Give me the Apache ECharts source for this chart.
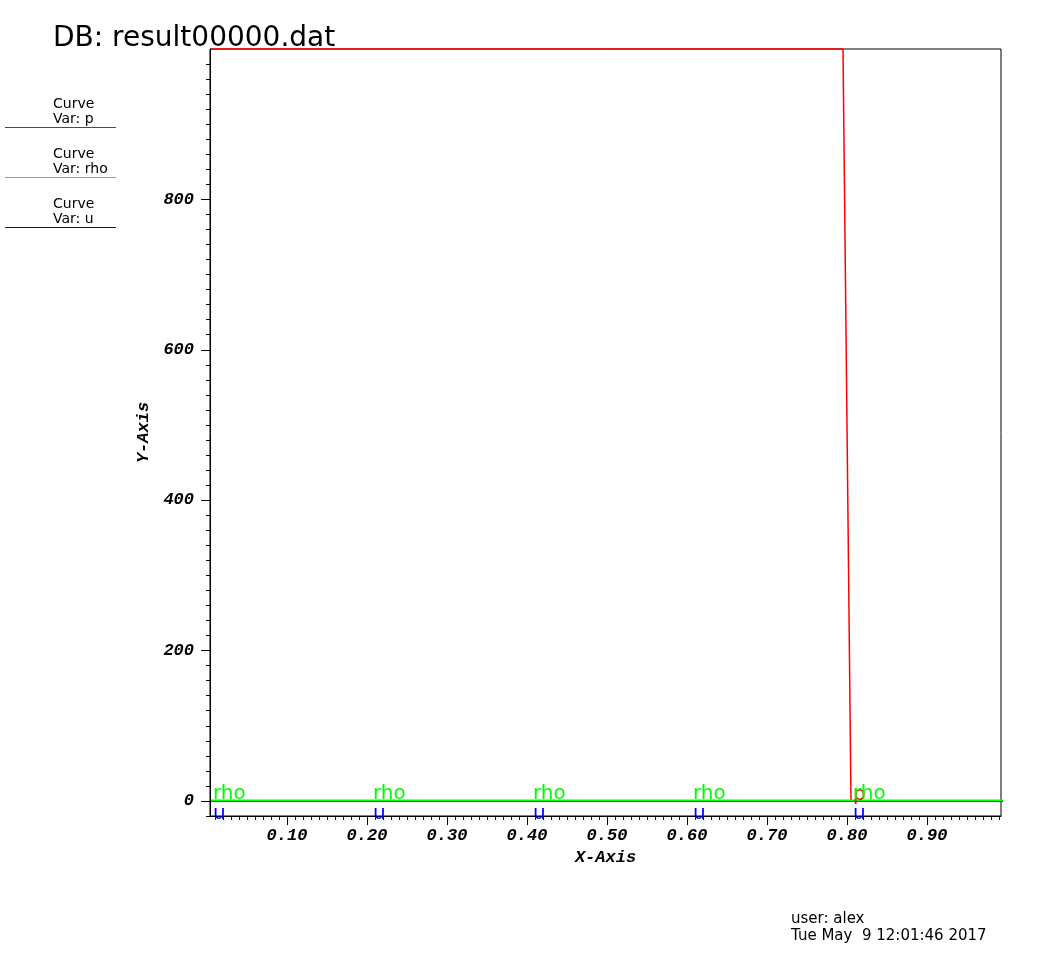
<!DOCTYPE html>
<html>
<head>
<meta charset="utf-8">
<script src="https://cdn.jsdelivr.net/npm/echarts@6/dist/echarts.min.js"></script>
<style>html,body{margin:0;padding:0;background:#fff;}#c{width:1056px;height:960px;}</style>
</head>
<body>
<div id="c"></div>
<script>
// ---- data ----
const xs = [0.005,0.015,0.025,0.035,0.045,0.055,0.065,0.075,0.085,0.095,
0.105,0.115,0.125,0.135,0.145,0.155,0.165,0.175,0.185,0.195,
0.205,0.215,0.225,0.235,0.245,0.255,0.265,0.275,0.285,0.295,
0.305,0.315,0.325,0.335,0.345,0.355,0.365,0.375,0.385,0.395,
0.405,0.415,0.425,0.435,0.445,0.455,0.465,0.475,0.485,0.495,
0.505,0.515,0.525,0.535,0.545,0.555,0.565,0.575,0.585,0.595,
0.605,0.615,0.625,0.635,0.645,0.655,0.665,0.675,0.685,0.695,
0.705,0.715,0.725,0.735,0.745,0.755,0.765,0.775,0.785,0.795,
0.805,0.815,0.825,0.835,0.845,0.855,0.865,0.875,0.885,0.895,
0.905,0.915,0.925,0.935,0.945,0.955,0.965,0.975,0.985,0.995];
const p = [1000,1000,1000,1000,1000,1000,1000,1000,1000,1000,
1000,1000,1000,1000,1000,1000,1000,1000,1000,1000,
1000,1000,1000,1000,1000,1000,1000,1000,1000,1000,
1000,1000,1000,1000,1000,1000,1000,1000,1000,1000,
1000,1000,1000,1000,1000,1000,1000,1000,1000,1000,
1000,1000,1000,1000,1000,1000,1000,1000,1000,1000,
1000,1000,1000,1000,1000,1000,1000,1000,1000,1000,
1000,1000,1000,1000,1000,1000,1000,1000,1000,1000,
0.01,0.01,0.01,0.01,0.01,0.01,0.01,0.01,0.01,0.01,
0.01,0.01,0.01,0.01,0.01,0.01,0.01,0.01,0.01,0.01];
const rho = [1,1,1,1,1,1,1,1,1,1, 1,1,1,1,1,1,1,1,1,1,
1,1,1,1,1,1,1,1,1,1, 1,1,1,1,1,1,1,1,1,1,
1,1,1,1,1,1,1,1,1,1, 1,1,1,1,1,1,1,1,1,1,
1,1,1,1,1,1,1,1,1,1, 1,1,1,1,1,1,1,1,1,1,
1,1,1,1,1,1,1,1,1,1, 1,1,1,1,1,1,1,1,1,1];
const u = [0,0,0,0,0,0,0,0,0,0, 0,0,0,0,0,0,0,0,0,0,
0,0,0,0,0,0,0,0,0,0, 0,0,0,0,0,0,0,0,0,0,
0,0,0,0,0,0,0,0,0,0, 0,0,0,0,0,0,0,0,0,0,
0,0,0,0,0,0,0,0,0,0, 0,0,0,0,0,0,0,0,0,0,
0,0,0,0,0,0,0,0,0,0, 0,0,0,0,0,0,0,0,0,0];
const rhoLabelIdx = [0,20,40,60,80];
const uLabelIdx = [0,20,40,60,80];
const pLabelIdx = [80];           // only the visible one (others clipped above the frame)
const xMajorTicks = [0.1,0.2,0.3,0.4,0.5,0.6,0.7,0.8,0.9];
const xTickLabels = ['0.10','0.20','0.30','0.40','0.50','0.60','0.70','0.80','0.90'];
const xMinorTicks = [];
for (let k = 1; k <= 99; k++) xMinorTicks.push(+(k/100).toFixed(2));
const yMajorTicks = [0,200,400,600,800];
const yMinorTicks = [];
for (let k = -1; k <= 49; k++) yMinorTicks.push(k*20);
const title = 'DB: result00000.dat';
const legendItems = [['Var: p','#ff0000'],['Var: rho','#00ff00'],['Var: u','#0000ff']];
const userLine = 'user: alex';
const dateLine = 'Tue May  9 12:01:46 2017';

// ---- chart ----
const XMIN = 0.00375, XMAX = 0.9925, YMIN = -20, YMAX = 1000;
const tickFont = {fontFamily:'Liberation Mono', fontWeight:'bold', fontStyle:'italic', fontSize:17, color:'#000'};

function mkData(vals, idxs){
  return xs.map((x,i)=>({value:[x, vals[i]], label:{show: idxs.indexOf(i) >= 0}}));
}
const labelBase = {fontFamily:'DejaVu Sans', fontSize:20, lineHeight:20, align:'left'};

const chart = echarts.init(document.getElementById('c'), null, {renderer:'canvas'});
const graphic = [
  {type:'text', left:53, top:25, style:{text:title, font:'28px "DejaVu Sans"', fill:'#000'}},
  {type:'text', left:791, top:912, style:{text:userLine, font:'15px "DejaVu Sans"', fill:'#000'}},
  {type:'text', left:791, top:929, style:{text:dateLine, font:'15px "DejaVu Sans"', fill:'#000', whiteSpace:'pre'}}
];
legendItems.forEach((it, i) => {
  const y0 = 50*i;
  graphic.push({type:'text', left:53, top:97+y0, style:{text:'Curve', font:'14px "DejaVu Sans"', fill:'#000'}});
  graphic.push({type:'text', left:53, top:112+y0, style:{text:it[0], font:'14px "DejaVu Sans"', fill:'#000'}});
  graphic.push({type:'line', shape:{x1:5, y1:127.5+y0, x2:116, y2:127.5+y0}, style:{stroke:it[1], lineWidth:1}});
});

const baseX = {type:'value', min:XMIN, max:XMAX, position:'bottom', splitLine:{show:false}};
const baseY = {type:'value', min:YMIN, max:YMAX, position:'left', splitLine:{show:false}};

chart.setOption({
  animation:false,
  backgroundColor:'#fff',
  grid:{left:210, top:49, width:791, height:767, show:true, borderColor:'#000', borderWidth:1, containLabel:false},
  graphic: graphic,
  xAxis:[
    Object.assign({}, baseX, {
      name:'X-Axis', nameLocation:'middle', nameGap:32,
      nameTextStyle:Object.assign({}, tickFont, {verticalAlign:'top'}),
      axisLine:{show:true, onZero:false, lineStyle:{color:'#000', width:1}},
      axisTick:{show:true, length:9, customValues:xMajorTicks, lineStyle:{color:'#000', width:1}},
      axisLabel:Object.assign({show:true, margin:11, customValues:xMajorTicks,
        formatter:v => xTickLabels[xMajorTicks.findIndex(t => Math.abs(t - v) < 1e-9)]}, tickFont)
    }),
    Object.assign({}, baseX, {
      axisLine:{show:false, onZero:false},
      axisTick:{show:true, length:4, customValues:xMinorTicks, lineStyle:{color:'#000', width:1}},
      axisLabel:{show:false}
    })
  ],
  yAxis:[
    Object.assign({}, baseY, {
      name:'Y-Axis', nameLocation:'middle', nameGap:55, nameRotate:90,
      nameTextStyle:tickFont,
      axisLine:{show:true, onZero:false, lineStyle:{color:'#000', width:1}},
      axisTick:{show:true, length:9, customValues:yMajorTicks, lineStyle:{color:'#000', width:1}},
      axisLabel:Object.assign({show:true, margin:16, customValues:yMajorTicks}, tickFont)
    }),
    Object.assign({}, baseY, {
      axisLine:{show:false, onZero:false},
      axisTick:{show:true, length:4, customValues:yMinorTicks, lineStyle:{color:'#000', width:1}},
      axisLabel:{show:false}
    })
  ],
  series:[
    {name:'u', type:'line', data:mkData(u, uLabelIdx), symbol:'circle', symbolSize:0, showSymbol:true, showAllSymbol:true,
     clip:false, lineStyle:{color:'#0000ff', width:1.5}, itemStyle:{color:'#0000ff'},
     label:Object.assign({position:[2,3], verticalAlign:'top', color:'#0000ff', formatter:'u'}, labelBase)},
    {name:'p', type:'line', data:mkData(p, pLabelIdx), symbol:'circle', symbolSize:0, showSymbol:true, showAllSymbol:true,
     clip:false, lineStyle:{color:'#ff0000', width:1.5}, itemStyle:{color:'#ff0000'},
     label:Object.assign({position:[2,4], verticalAlign:'bottom', color:'#ff0000', formatter:'p'}, labelBase)},
    {name:'rho', type:'line', data:mkData(rho, rhoLabelIdx), symbol:'circle', symbolSize:0, showSymbol:true, showAllSymbol:true,
     clip:false, lineStyle:{color:'#00ff00', width:1.5}, itemStyle:{color:'#00ff00'},
     label:Object.assign({position:[2,4], verticalAlign:'bottom', color:'#00ff00', formatter:'rho'}, labelBase)}
  ]
});
</script>
</body>
</html>
